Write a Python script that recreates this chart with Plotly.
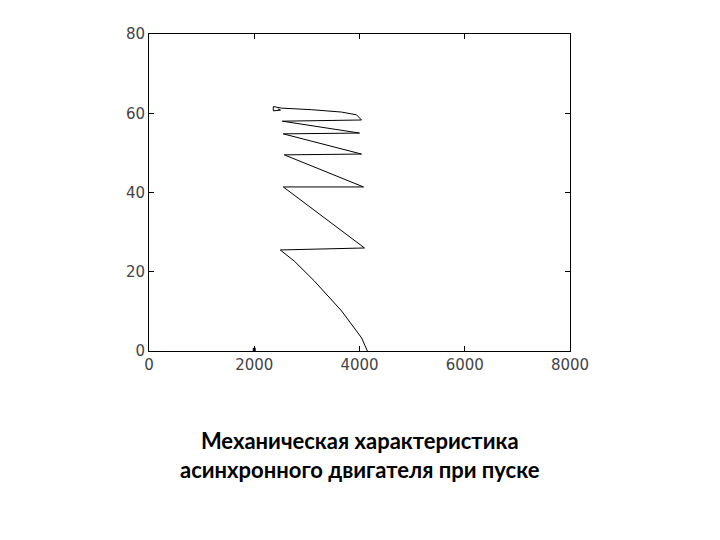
import plotly.graph_objects as go

# Curve (speed, torque)
speed = [4150, 4040, 3660, 3140, 2760, 2495,
         4095, 3370, 2552,
         4076, 2571,
         4038, 2552,
         4000, 2533,
         4038, 3943, 3657, 3086, 2514,
         2362, 2362, 2500, 2450]
torque = [0.0, 3.3, 10.1, 17.7, 22.7, 25.5,
          26.0, 33.3, 41.4,
          41.4, 49.5,
          49.7, 54.8,
          55.0, 58.0,
          58.3, 59.6, 60.3, 60.9, 61.3,
          61.7, 60.6, 60.8, 61.1]

marker_x = [2000, 2000]
marker_y = [0.0, 0.8]

x_ticks = [0, 2000, 4000, 6000, 8000]
y_ticks = [0, 20, 40, 60, 80]

title_lines = ["Механическая характеристика", "асинхронного двигателя при пуске"]

fig = go.Figure()
fig.add_trace(go.Scatter(x=speed, y=torque, mode="lines",
                         line=dict(color="black", width=1), showlegend=False))
fig.add_trace(go.Scatter(x=marker_x, y=marker_y, mode="lines",
                         line=dict(color="#0000b0", width=3), showlegend=False))

axis_common = dict(showline=True, linecolor="black", linewidth=1, mirror="allticks",
                   ticks="inside", ticklen=5, tickcolor="black", showgrid=False,
                   zeroline=False, tickfont=dict(family="DejaVu Sans", size=15, color="#444444"))

fig.update_xaxes(range=[0, 8000], tickvals=x_ticks, ticktext=[str(v) for v in x_ticks],
                 **axis_common)
fig.update_yaxes(range=[0, 80], tickvals=y_ticks, ticktext=[str(v) for v in y_ticks],
                 **axis_common)

fig.add_annotation(text="<b>" + title_lines[0] + "<br>" + title_lines[1] + "</b>",
                   xref="paper", yref="paper", x=0.5, y=-0.235, yanchor="top",
                   showarrow=False, align="center",
                   font=dict(family="Lato", size=22, color="black"))

fig.update_layout(width=720, height=540, plot_bgcolor="white", paper_bgcolor="white",
                  margin=dict(l=141, r=158, t=26, b=197))

fig.write_html("out.html")
